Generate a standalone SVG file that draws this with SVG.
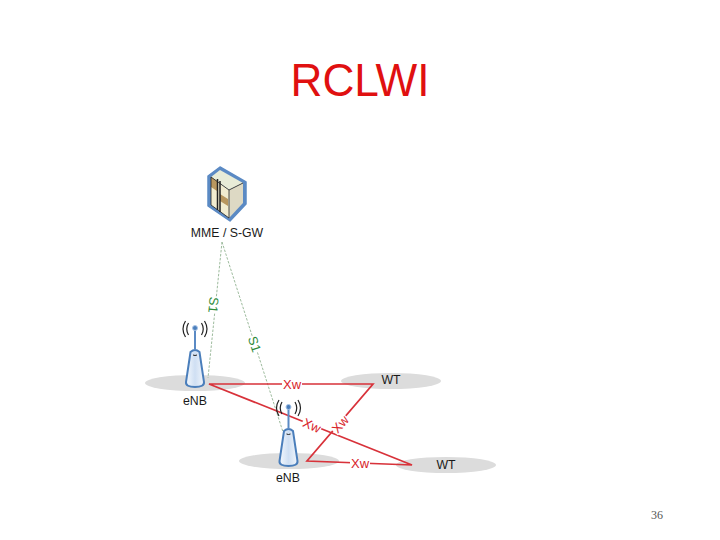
<svg xmlns="http://www.w3.org/2000/svg" width="720" height="540" viewBox="0 0 720 540">
<defs>
<linearGradient id="body" x1="0" x2="1" y1="0" y2="0"><stop offset="0" stop-color="#f4f8fd"/><stop offset="0.5" stop-color="#cfdff3"/><stop offset="1" stop-color="#f0f5fb"/></linearGradient>
<g id="tower">
<path d="M-4.500 -29 Q0 -33 4.500 -29 L9 1 Q9.500 6 0 6 Q-9.500 6 -9 1 Z" fill="url(#body)" stroke="#4a7ebb" stroke-width="2"/>
<line x1="0" y1="-51" x2="0" y2="-31" stroke="#5b8ac4" stroke-width="2"/>
<circle cx="0" cy="-53" r="2.500" fill="#4a7ebb" stroke="#a9c4e6" stroke-width="1"/>
<path d="M-2 -26 Q0 -25 2 -26" fill="none" stroke="#222" stroke-width="1"/>
<path d="M-6.500 -58 Q-10 -52 -6.500 -46 M6.500 -58 Q10 -52 6.500 -46" fill="none" stroke="#222" stroke-width="1.200"/>
<path d="M-9.500 -60 Q-14.500 -52 -9.500 -44 M9.500 -60 Q14.500 -52 9.500 -44" fill="none" stroke="#222" stroke-width="1.200"/>
</g>
</defs>
<style>
text{font-family:"Liberation Sans",Arial,sans-serif}
.lbl{font-size:12.300px;fill:#1a1a1a;text-anchor:middle}
.xw{font-size:13px;fill:#d8232a;text-anchor:middle}
.s1{font-size:13px;fill:#2e8b3a;text-anchor:middle}
.red{fill:none;stroke:#d8323a;stroke-width:1.700}
.dash{fill:none;stroke:#9dbb9d;stroke-width:1;stroke-dasharray:2.500 1.500}
.pad{fill:#dcdcdc}
</style>
<rect width="720" height="540" fill="#fff"/>
<text id="title" x="360" y="96" font-size="46" fill="#e01010" text-anchor="middle" textLength="139" lengthAdjust="spacingAndGlyphs">RCLWI</text>
<ellipse class="pad" cx="195" cy="383" rx="50" ry="8"/>
<ellipse class="pad" cx="391" cy="381" rx="50" ry="8"/>
<ellipse class="pad" cx="289" cy="461" rx="50" ry="8"/>
<ellipse class="pad" cx="446" cy="465" rx="50" ry="8"/>
<g id="connectors">
<path class="dash" d="M222 242L208 378"/>
<path class="dash" d="M222 242L283 432"/>
<path class="red" d="M209 384H373L307 461L412 465L209 384Z"/>
<rect x="282" y="378" width="20" height="12" fill="#fff"/>
<text class="xw" x="292" y="389">Xw</text>
<rect x="302" y="419" width="20" height="12" fill="#fff" transform="rotate(24 312 425)"/>
<text class="xw" x="312" y="430" transform="rotate(24 312 425)">Xw</text>
<rect x="330" y="418" width="20" height="12" fill="#fff" transform="rotate(-49 340 424)"/>
<text class="xw" x="340" y="429" transform="rotate(-49 340 424)">Xw</text>
<rect x="350" y="457" width="20" height="12" fill="#fff"/>
<text class="xw" x="360" y="468">Xw</text>
<rect x="206" y="299" width="16" height="12" fill="#fff" transform="rotate(96 214 305)"/>
<text class="s1" x="214" y="310" transform="rotate(96 214 305)">S1</text>
<rect x="247" y="338" width="16" height="12" fill="#fff" transform="rotate(72 255 344)"/>
<text class="s1" x="255" y="349" transform="rotate(72 255 344)">S1</text>
</g>
<g id="mme">
<path d="M220 167L246 182V204L230 221L208 206V176Z" fill="#5b8ac4" stroke="#5b8ac4" stroke-width="1.500" stroke-linejoin="round"/>
<path d="M220 170L243 183L229 190L211 177Z" fill="#e8ecd8"/>
<path d="M211 177L229 190V218L211 205Z" fill="#f1ecd0"/>
<path d="M229 190L243 183V203L229 218Z" fill="#ddd9c4"/>
<path d="M211 177L217 181V191L211 187ZM220 194L228 199V206L220 201Z" fill="#b8975f"/>
<path d="M217.500 179V210M220 181V212" stroke="#222" stroke-width="1.500" fill="none"/>
<path d="M211 177L229 190V218L211 205ZM229 190L243 183" fill="none" stroke="#222" stroke-width=".8"/>
<text class="lbl" x="227" y="237">MME / S-GW</text>
</g>
<g id="enb1">
<use href="#tower" x="195" y="381"/>
<text class="lbl" x="195" y="405">eNB</text>
</g>
<g id="enb2">
<use href="#tower" x="288.500" y="460"/>
<text class="lbl" x="288" y="482">eNB</text>
</g>
<g id="wt1"><text class="lbl" x="391" y="384">WT</text></g>
<g id="wt2"><text class="lbl" x="446" y="469">WT</text></g>
<text id="page" x="657" y="519" font-size="12" fill="#555" text-anchor="middle" style="font-family:'Liberation Serif',serif">36</text>
</svg>
